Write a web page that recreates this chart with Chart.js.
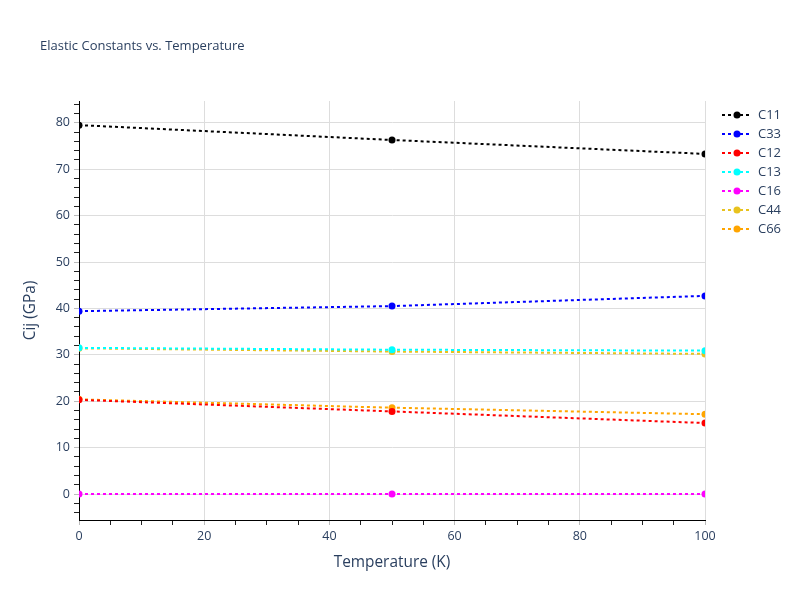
<!DOCTYPE html>
<html>
<head>
<meta charset="utf-8">
<script src="https://cdn.jsdelivr.net/npm/chart.js@4/dist/chart.umd.min.js"></script>
<style>
  html, body { margin: 0; padding: 0; background: #fff; }
  #wrap { width: 800px; height: 600px; position: relative; }
</style>
</head>
<body>
<div id="wrap"><canvas id="myChart" width="800" height="600"></canvas></div>
<script>
// data
const temps = [0, 50, 100];
const seriesNames = ['C11', 'C33', 'C12', 'C13', 'C16', 'C44', 'C66'];
const seriesColors = ['#000000', '#0000ff', '#ff0000', '#00ffff', '#ff00ff', '#e8c21e', '#ffa500'];
const c11 = [79.5, 76.3, 73.3];
const c33 = [39.4, 40.5, 42.7];
const c12 = [20.3, 17.8, 15.3];
const c13 = [31.5, 31.1, 30.9];
const c16 = [0, 0, 0];
const c44 = [31.4, 30.7, 30.2];
const c66 = [20.4, 18.6, 17.2];
const seriesValues = [c11, c33, c12, c13, c16, c44, c66];

const yTicks = [];
for (let v = -4; v <= 84; v += 2) yTicks.push(v);
const xTicks = [];
for (let v = 0; v <= 100; v += 5) xTicks.push(v);

const textColor = '#2a3f5f';
const font = '"Open Sans", "DejaVu Sans", sans-serif';

const ctx = document.getElementById('myChart');

// title, axis titles and legend drawn on the canvas
const extras = {
  id: 'extras',
  afterDraw(chart) {
    const c = chart.ctx;
    const area = chart.chartArea;
    c.save();
    c.fillStyle = textColor;
    c.textBaseline = 'middle';
    c.font = '13px ' + font;
    c.textAlign = 'left';
    c.fillText('Elastic Constants vs. Temperature', 40, 46);

    c.font = '15.4px ' + font;
    c.textAlign = 'center';
    c.fillText('Temperature (K)', (area.left + area.right) / 2, 563);
    c.save();
    c.translate(31, (area.top + area.bottom) / 2);
    c.rotate(-Math.PI / 2);
    c.fillText('Cij (GPa)', 0, 0);
    c.restore();

    // legend
    c.font = '13px ' + font;
    c.textAlign = 'left';
    seriesNames.forEach((name, i) => {
      const y = 115 + i * 19;
      c.strokeStyle = seriesColors[i];
      c.lineWidth = 2;
      c.setLineDash([3, 3]);
      c.beginPath();
      c.moveTo(722, y);
      c.lineTo(752, y);
      c.stroke();
      c.setLineDash([]);
      c.fillStyle = seriesColors[i];
      c.beginPath();
      c.arc(737, y, 3.5, 0, Math.PI * 2);
      c.fill();
      c.fillStyle = textColor;
      c.fillText(name, 758, y);
    });
    c.restore();
  }
};

new Chart(ctx, {
  type: 'line',
  data: {
    datasets: seriesNames.map((name, i) => ({
      label: name,
      data: temps.map((t, j) => ({ x: t, y: seriesValues[i][j] })),
      borderColor: seriesColors[i],
      backgroundColor: seriesColors[i],
      borderWidth: 2,
      borderDash: [3, 3],
      pointRadius: 3.5,
      pointHoverRadius: 3.5,
      pointBorderWidth: 0,
      tension: 0,
      clip: 0
    }))
  },
  options: {
    responsive: false,
    animation: false,
    layout: { padding: { left: 0, right: 95, top: 101, bottom: 0 } },
    scales: {
      x: {
        type: 'linear',
        min: 0,
        max: 100,
        afterBuildTicks: (scale) => { scale.ticks = xTicks.map(v => ({ value: v })); },
        afterFit: (scale) => { scale.height = 80; },
        border: { color: '#000', width: 1 },
        grid: {
          color: (c) => (c.tick && c.tick.value % 20 === 0 && c.tick.value !== 0) ? '#dddddd' : 'rgba(0,0,0,0)',
          lineWidth: 1,
          drawTicks: true,
          tickLength: 5,
          tickColor: (c) => (c.tick && c.tick.value % 20 === 0) ? '#bbbbbb' : '#222222'
        },
        ticks: {
          autoSkip: false,
          maxRotation: 0,
          color: textColor,
          font: { family: font, size: 12.5 },
          padding: 4,
          callback: (v) => v % 20 === 0 ? v : ''
        }
      },
      y: {
        type: 'linear',
        min: -5.6,
        max: 84.7,
        afterBuildTicks: (scale) => { scale.ticks = yTicks.map(v => ({ value: v })); },
        afterFit: (scale) => { scale.width = 79; },
        border: { color: '#000', width: 1 },
        grid: {
          color: (c) => (c.tick && c.tick.value % 10 === 0) ? '#dddddd' : 'rgba(0,0,0,0)',
          lineWidth: 1,
          drawTicks: true,
          tickLength: 5,
          tickColor: (c) => (c.tick && c.tick.value % 10 === 0) ? '#bbbbbb' : '#222222'
        },
        ticks: {
          autoSkip: false,
          color: textColor,
          font: { family: font, size: 12.5 },
          padding: 4,
          callback: (v) => v % 10 === 0 ? v : ''
        }
      }
    },
    plugins: {
      legend: { display: false },
      title: { display: false },
      tooltip: { enabled: false }
    }
  },
  plugins: [extras]
});
</script>
</body>
</html>
